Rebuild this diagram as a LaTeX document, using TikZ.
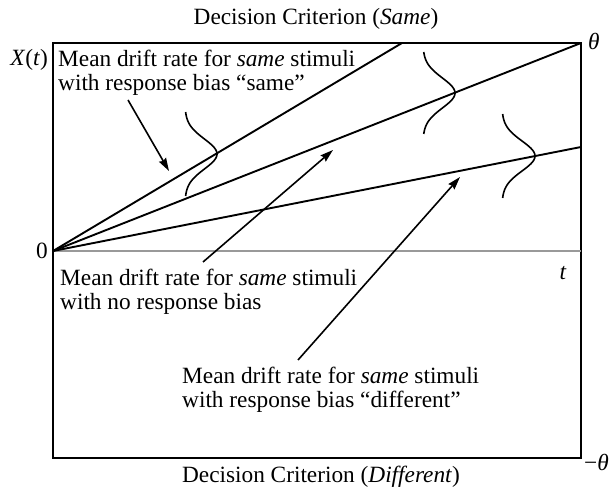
\documentclass[tikz,border=0pt]{standalone}
\usepackage{fontspec}
\setmainfont{Liberation Serif}
\usetikzlibrary{arrows.meta}
\begin{document}
\begin{tikzpicture}[x=1bp,y=-1bp,
  lbl/.style={font=\fontsize{23.3bp}{24bp}\selectfont, inner sep=0pt},
  frame/.style={line width=1.5bp},
  drift/.style={line width=1.9bp, line cap=round},
  pointer/.style={line width=1.6bp, -{Stealth[length=13bp,width=8bp,inset=1.5bp]}},
  density/.style={line width=1.6bp},
  timeaxis/.style={line width=1.1bp, draw=gray!80}]
\useasboundingbox (0,0) rectangle (614,499);

% frame and time axis
\coordinate (O) at (53,251);
\coordinate (TL) at (53,43);
\coordinate (BR) at (581,458);
\coordinate (E) at (581,251);
\draw[frame] (TL) rectangle (BR);
\draw[timeaxis] (O) -- (E);

% mean drift paths
\coordinate (L1) at (402,43);
\coordinate (L2) at (581,43);
\coordinate (L3) at (581,147);
\draw[drift] (O) -- (L1);
\draw[drift] (O) -- (L2);
\draw[drift] (O) -- (L3);

% distributions of the process around each path
\draw[density] plot[domain=-42:42, samples=80, smooth] ({185+32*exp(-(\x*\x)/450)}, {154+\x});
\draw[density] plot[domain=-41:41, samples=80, smooth] ({423+32*exp(-(\x*\x)/450)}, {93+\x});
\draw[density] plot[domain=-42:42, samples=80, smooth] ({502+33*exp(-(\x*\x)/450)}, {156+\x});

% axis labels
\node[lbl, anchor=base] (title) at (316,25) {Decision Criterion (\textit{Same})};
\node[lbl, anchor=base] (foot) at (321,482) {Decision Criterion (\textit{Different})};
\node[lbl, anchor=base east] (xt) at (48,66) {\textit{X}(\textit{t})};
\node[lbl, anchor=base east] (zero) at (48,258) {0};
\node[lbl, anchor=base] (tlab) at (563,279) {\textit{t}};
\node[lbl, anchor=base west] (th) at (588,50) {\textit{θ}};
\node[lbl, anchor=base west] (mth) at (584,470) {−\textit{θ}};

% path descriptions (base anchor sits on the last line)
\node[lbl, anchor=base west, align=left] (labA) at (58,91) {Mean drift rate for \textit{same} stimuli\\with response bias “same”};
\node[lbl, anchor=base west, align=left] (labB) at (60,309) {Mean drift rate for \textit{same} stimuli\\with no response bias};
\node[lbl, anchor=base west, align=left] (labC) at (182,407) {Mean drift rate for \textit{same} stimuli\\with response bias “different”};

% pointers
\coordinate (a1s) at (128,100);
\coordinate (a1e) at (169,171);
\coordinate (a2s) at (203,262);
\coordinate (a2e) at (333,150);
\coordinate (a3s) at (298,360);
\coordinate (a3e) at (460,177);
\draw[pointer] (a1s) -- (a1e);
\draw[pointer] (a2s) -- (a2e);
\draw[pointer] (a3s) -- (a3e);
\end{tikzpicture}
\end{document}
